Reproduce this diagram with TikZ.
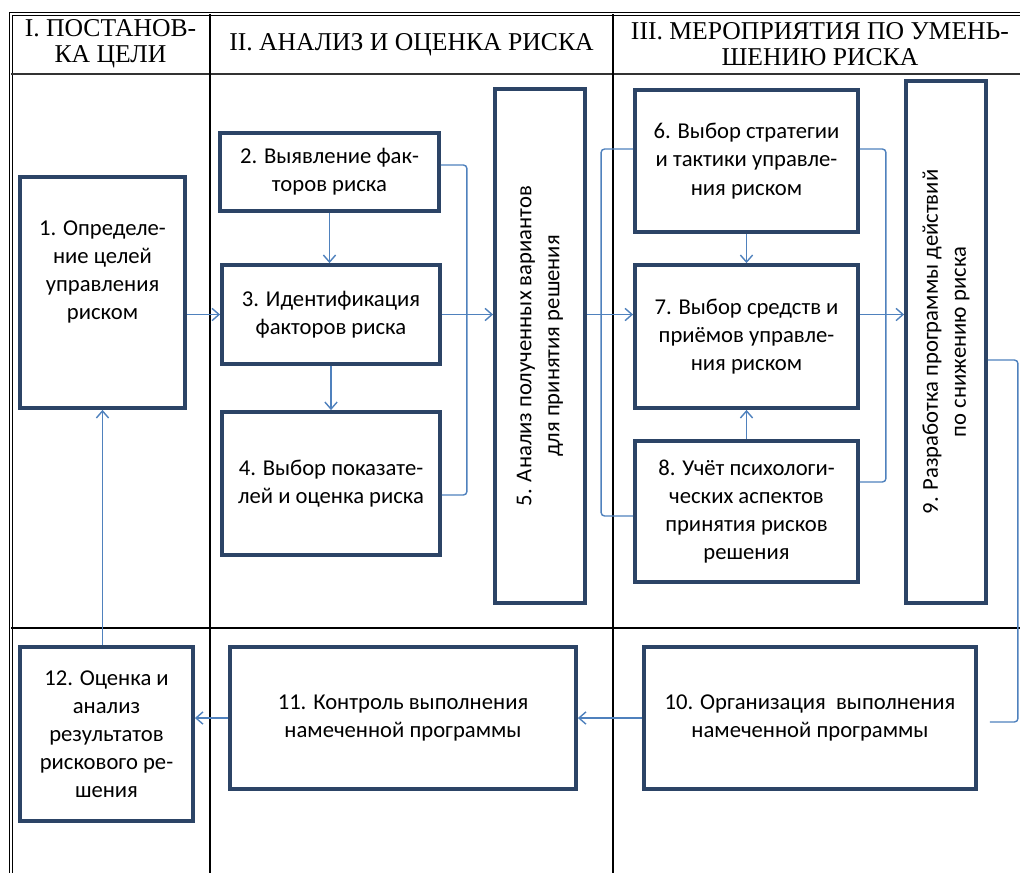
\documentclass[tikz,border=0pt]{standalone}
\usepackage{fontspec}
\setmainfont{Carlito}
\newfontfamily\headfont{Liberation Serif}
\usepackage{xcolor}
\usepackage{tikz}
\usetikzlibrary{arrows.meta, positioning, calc}
\definecolor{boxblue}{HTML}{2C4466}
\definecolor{linkblue}{HTML}{4F81BD}
\tikzstyle{stage} = [draw=boxblue, line width=2.2pt, align=center, inner sep=2pt, font=\fontsize{12.9}{16}\selectfont]
\tikzstyle{arrow} = [linkblue, line width=0.8pt, -{Straight Barb[length=4pt,width=7pt]}]
\tikzstyle{link} = [linkblue, line width=0.8pt, rounded corners=2pt]
\tikzstyle{head} = [font=\headfont\fontsize{14.6}{14.8}\selectfont, align=center]

\begin{document}
\begin{tikzpicture}[x=0.02cm, y=-0.02cm]
\useasboundingbox (0,0) rectangle (1020,873);

% Table
\draw[double, line width=0.5pt, double distance=1.1pt] (1020,14) -- (11,14) -- (11,873);
\draw[line width=1pt, black!80] (11,74) -- (1020,74);
\draw[line width=0.7pt] (11,628) -- (1020,628);
\draw[line width=0.7pt] (210,14) -- (210,873);
\draw[line width=0.7pt] (613,14) -- (613,873);

% Header
\node[head] (h1) at (110.5,44) {I. ПОСТАНОВ-\\КА ЦЕЛИ};
\node[head] (h2) at (411.5,45) {II. АНАЛИЗ И ОЦЕНКА РИСКА};
\node[head] (h3) at (820,44) {III. МЕРОПРИЯТИЯ ПО УМЕНЬ-\\ШЕНИЮ РИСКА};

% Stage I
\node[stage, minimum width=3.3cm, minimum height=4.62cm, text depth=0.9cm] (b1) at (102.5,292.5) {1. Определе-\\ние целей\\управления\\риском};
\node[stage, minimum width=3.46cm, minimum height=3.48cm] (b12) at (106.5,734) {12. Оценка и\\анализ\\результатов\\рискового ре-\\шения};

% Stage II
\node[stage, minimum width=4.38cm, minimum height=1.56cm] (b2) at (329.5,172) {2. Выявление фак-\\торов риска};
\node[stage, minimum width=4.36cm, minimum height=1.98cm] (b3) at (331,314.5) {3. Идентификация\\факторов риска};
\node[stage, minimum width=4.36cm, minimum height=2.86cm] (b4) at (331,483.5) {4. Выбор показате-\\лей и оценка риска};
\node[stage, minimum width=1.8cm, minimum height=10.28cm] (b5) at (540,346) {};
\node[rotate=90, align=center, font=\fontsize{12.9}{16}\selectfont] (t5) at (b5.center) {5. Анализ полученных вариантов\\для принятия решения};
\node[stage, minimum width=6.92cm, minimum height=2.84cm] (b11) at (403,718) {11. Контроль выполнения\\намеченной программы};

% Stage III
\node[stage, minimum width=4.46cm, minimum height=2.84cm] (b6) at (746.5,161) {6. Выбор стратегии\\и тактики управле-\\ния риском};
\node[stage, minimum width=4.46cm, minimum height=2.86cm] (b7) at (746.5,336.5) {7. Выбор средств и\\приёмов управле-\\ния риском};
\node[stage, minimum width=4.46cm, minimum height=2.82cm] (b8) at (746.5,511.5) {8. Учёт психологи-\\ческих аспектов\\принятия рисков\\решения};
\node[stage, minimum width=1.6cm, minimum height=10.44cm] (b9) at (946,342) {};
\node[rotate=90, align=center, font=\fontsize{12.9}{16}\selectfont] (t9) at (b9.center) {9. Разработка программы действий\\по снижению риска};
\node[stage, minimum width=6.64cm, minimum height=2.84cm] (b10) at (810,718) {10. Организация\ \ выполнения\\намеченной программы};

% Connectors
\draw[arrow] (b1.east |- b3.west) -- (b3.west);
\draw[arrow] (b2.south) -- (b2.south |- b3.north);
\draw[arrow] (b3.south) -- (b3.south |- b4.north);
\draw[link] ([yshift=0.14cm]b2.east) -- ++(26,0) |- ([yshift=-0.23cm]b4.east);
\draw[arrow] (b3.east) -- (b3.east -| b5.west);
\draw[arrow] (b5.east |- b3.east) -- (b3.east -| b7.west);
\draw[link] ([yshift=0.24cm]b6.west) -- ++(-32,0) |- ([yshift=-0.09cm]b8.west);
\draw[link] ([yshift=0.24cm]b6.east) -- ++(26,0) |- ([yshift=0.59cm]b8.east);
\draw[arrow] (b6.south -| b7.north) -- (b7.north);
\draw[arrow] (b8.north) -- (b7.south);
\draw[arrow] (b7.east |- b3.east) -- (b9.west |- b3.east);
\draw[link] ([yshift=-0.36cm]b9.east) -- ++(30,0) |- ([shift={(0.24cm,-0.08cm)}]b10.east);
\draw[arrow] (b10.west) -- (b11.east);
\draw[arrow] (b11.west) -- (b11.west -| b12.east);
\draw[arrow] (b1.south |- b12.north) -- (b1.south);
\end{tikzpicture}
\end{document}
